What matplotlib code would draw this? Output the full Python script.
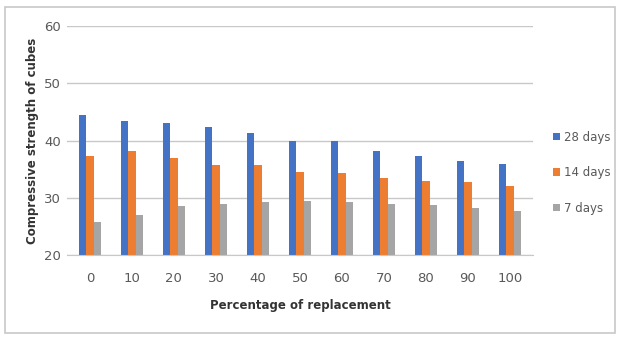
import matplotlib.pyplot as plt
import numpy as np
from matplotlib.patches import Rectangle

# data
replacement = ['0', '10', '20', '30', '40', '50', '60', '70', '80', '90', '100']
days28 = [44.4, 43.5, 43.0, 42.3, 41.3, 40.0, 39.9, 38.1, 37.3, 36.4, 36.0]
days14 = [37.3, 38.2, 36.9, 35.7, 35.7, 34.6, 34.4, 33.5, 33.0, 32.7, 32.0]
days7 = [25.8, 27.0, 28.5, 28.9, 29.2, 29.4, 29.3, 28.9, 28.8, 28.3, 27.8]

fig = plt.figure(figsize=(6.19, 3.38), dpi=100)
ax = fig.add_axes([0.108, 0.245, 0.753, 0.678])

x = np.arange(len(replacement))
w = 0.18
ax.bar(x - w, np.array(days28) - 20, w, bottom=20, color='#4472C4', label='28 days')
ax.bar(x, np.array(days14) - 20, w, bottom=20, color='#ED7D31', label='14 days')
ax.bar(x + w, np.array(days7) - 20, w, bottom=20, color='#A5A5A5', label='7 days')

ax.set_ylim(20, 60)
ax.set_xlim(-0.55, len(replacement) - 0.45)
ax.set_yticks([20, 30, 40, 50, 60])
ax.set_xticks(x)
ax.set_xticklabels(replacement)
ax.yaxis.grid(True, color='#C8C8C8', linewidth=1)
ax.set_axisbelow(True)
for s in ['top', 'right', 'left']:
    ax.spines[s].set_visible(False)
ax.spines['bottom'].set_color('#C8C8C8')
ax.tick_params(length=0, labelsize=9.5, colors='#595959', pad=12)
ax.tick_params(axis='y', pad=4)

ax.set_ylabel('Compressive strength of cubes', fontsize=8.5, fontweight='bold', color='#333333')
ax.set_xlabel('Percentage of replacement', fontsize=8.5, fontweight='bold', color='#333333', labelpad=10)

leg = ax.legend(loc='center left', bbox_to_anchor=(1.02, 0.36), frameon=False,
                fontsize=8.5, handlelength=0.6, handleheight=0.6, handletextpad=0.3,
                labelspacing=1.9, labelcolor='#595959')

# outer chart border
fig.patches.append(Rectangle((0.008, 0.015), 0.985, 0.965, transform=fig.transFigure,
                             fill=False, edgecolor='#C8C8C8', linewidth=1.2))

fig.savefig('out.png', dpi=100)
